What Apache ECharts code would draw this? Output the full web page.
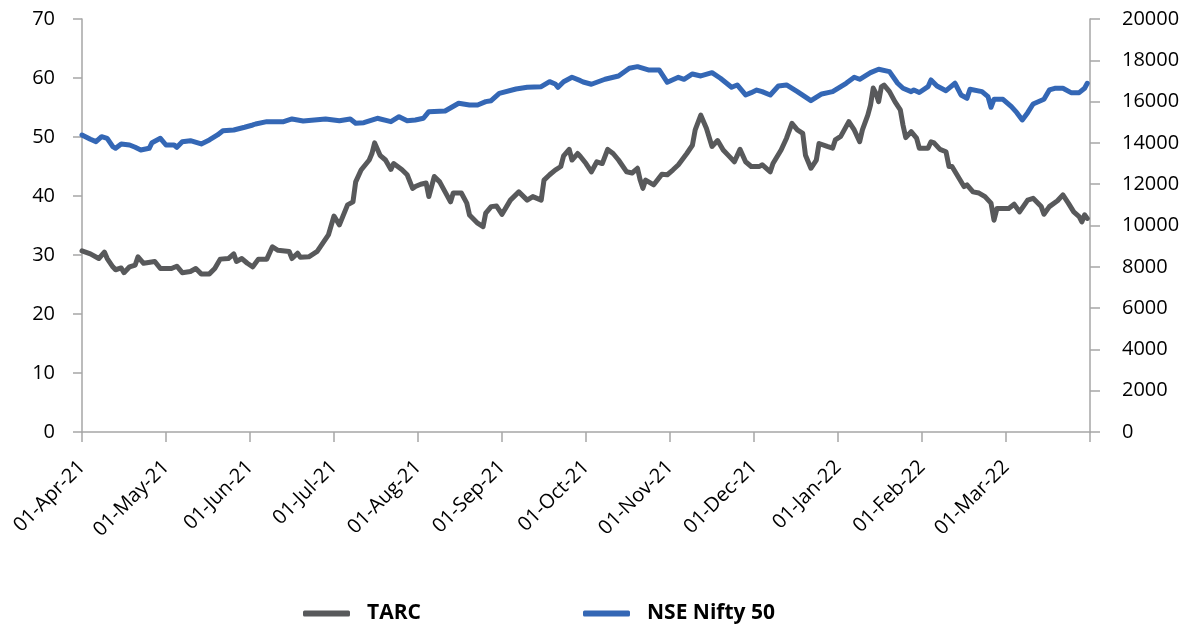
<!DOCTYPE html>
<html>
<head>
<meta charset="utf-8">
<script src="https://cdn.jsdelivr.net/npm/echarts@6/dist/echarts.min.js"></script>
<style>
  html, body { margin: 0; padding: 0; background: #ffffff; }
  #chart { width: 1198px; height: 626px; }
</style>
</head>
<body>
<div id="chart"></div>
<script>
// ---- Data ----
const monthLabels = ['01-Apr-21','01-May-21','01-Jun-21','01-Jul-21','01-Aug-21','01-Sep-21',
  '01-Oct-21','01-Nov-21','01-Dec-21','01-Jan-22','01-Feb-22','01-Mar-22'];

const tarcDates = [
  '2021-04-01','2021-04-04','2021-04-07','2021-04-09','2021-04-10','2021-04-12','2021-04-13','2021-04-15','2021-04-16','2021-04-18',
  '2021-04-20','2021-04-21','2021-04-23','2021-04-27','2021-04-29','2021-05-03','2021-05-05','2021-05-07','2021-05-10','2021-05-12',
  '2021-05-14','2021-05-17','2021-05-19','2021-05-21','2021-05-24','2021-05-26','2021-05-27','2021-05-29','2021-05-31','2021-06-02',
  '2021-06-04','2021-06-07','2021-06-09','2021-06-11','2021-06-15','2021-06-16','2021-06-18','2021-06-19','2021-06-22','2021-06-25',
  '2021-06-27','2021-06-29','2021-07-01','2021-07-03','2021-07-06','2021-07-08','2021-07-09','2021-07-11','2021-07-14','2021-07-15',
  '2021-07-16','2021-07-18','2021-07-20','2021-07-22','2021-07-23','2021-07-26','2021-07-28','2021-07-30','2021-07-31','2021-08-02',
  '2021-08-04','2021-08-05','2021-08-07','2021-08-09','2021-08-11','2021-08-13','2021-08-14','2021-08-17','2021-08-19','2021-08-20',
  '2021-08-23','2021-08-25','2021-08-26','2021-08-28','2021-08-30','2021-09-01','2021-09-04','2021-09-07','2021-09-10','2021-09-12',
  '2021-09-15','2021-09-16','2021-09-18','2021-09-20','2021-09-22','2021-09-23','2021-09-25','2021-09-26','2021-09-28','2021-09-29',
  '2021-10-01','2021-10-03','2021-10-05','2021-10-07','2021-10-09','2021-10-11','2021-10-13','2021-10-16','2021-10-18','2021-10-20',
  '2021-10-21','2021-10-22','2021-10-23','2021-10-26','2021-10-29','2021-10-31','2021-11-02','2021-11-04','2021-11-07','2021-11-09',
  '2021-11-10','2021-11-12','2021-11-14','2021-11-16','2021-11-17','2021-11-18','2021-11-20','2021-11-22','2021-11-24','2021-11-26',
  '2021-11-28','2021-11-30','2021-12-03','2021-12-04','2021-12-07','2021-12-08','2021-12-11','2021-12-13','2021-12-15','2021-12-17',
  '2021-12-19','2021-12-20','2021-12-22','2021-12-24','2021-12-25','2021-12-28','2021-12-30','2021-12-31','2022-01-02','2022-01-05',
  '2022-01-07','2022-01-09','2022-01-10','2022-01-12','2022-01-13','2022-01-14','2022-01-15','2022-01-16','2022-01-17','2022-01-18',
  '2022-01-20','2022-01-22','2022-01-24','2022-01-25','2022-01-26','2022-01-28','2022-01-30','2022-01-31','2022-02-03','2022-02-04',
  '2022-02-05','2022-02-07','2022-02-09','2022-02-10','2022-02-11','2022-02-13','2022-02-15','2022-02-16','2022-02-18','2022-02-20',
  '2022-02-22','2022-02-24','2022-02-25','2022-02-26','2022-02-28','2022-03-02','2022-03-04','2022-03-06','2022-03-09','2022-03-11',
  '2022-03-14','2022-03-15','2022-03-17','2022-03-20','2022-03-22','2022-03-24','2022-03-26','2022-03-28','2022-03-29','2022-03-30',
  '2022-03-31'
];
const tarcValues = [
  30.7,30.2,29.4,30.5,29.4,28.0,27.5,27.8,27.0,28.0,
  28.3,29.7,28.6,28.9,27.7,27.7,28.1,27.0,27.2,27.7,
  26.8,26.8,27.7,29.3,29.4,30.2,28.9,29.4,28.6,28.0,
  29.3,29.3,31.4,30.8,30.6,29.4,30.3,29.6,29.7,30.6,
  32.0,33.4,36.6,35.1,38.5,39.0,42.4,44.4,46.1,47.2,
  49.0,46.9,46.1,44.5,45.5,44.5,43.6,41.3,41.6,42.0,
  42.2,39.9,43.3,42.4,40.7,39.0,40.5,40.5,38.8,36.8,
  35.4,34.8,37.1,38.2,38.3,36.9,39.3,40.7,39.3,39.9,
  39.3,42.7,43.6,44.4,45.0,46.8,47.9,46.1,47.2,46.7,
  45.5,44.1,45.8,45.5,47.9,47.2,46.1,44.1,43.9,44.7,
  42.7,41.3,42.7,41.9,43.7,43.6,44.4,45.3,47.2,48.6,
  51.2,53.7,51.5,48.4,48.9,49.4,47.8,46.8,45.8,47.9,
  45.8,45.0,45.0,45.3,44.1,45.5,47.8,49.8,52.3,51.2,
  50.6,46.9,44.7,46.1,48.9,48.4,48.1,49.5,50.1,52.6,
  51.2,49.2,51.2,53.7,55.4,58.3,57.4,56.0,58.5,58.8,
  57.7,56.0,54.6,52.0,49.9,50.9,49.8,48.1,48.1,49.2,
  49.0,47.9,47.5,45.0,45.0,43.3,41.6,41.9,40.7,40.5,
  39.9,38.8,35.9,37.9,37.9,37.9,38.6,37.3,39.3,39.6,
  38.2,36.9,38.2,39.2,40.2,38.8,37.3,36.5,35.6,36.8,
  36.2
];

const niftyDates = [
  '2021-04-01','2021-04-04','2021-04-06','2021-04-08','2021-04-10','2021-04-12','2021-04-13','2021-04-15','2021-04-18','2021-04-20',
  '2021-04-22','2021-04-25','2021-04-26','2021-04-29','2021-05-01','2021-05-04','2021-05-05','2021-05-07','2021-05-10','2021-05-14',
  '2021-05-17','2021-05-20','2021-05-22','2021-05-26','2021-05-30','2021-06-02','2021-06-03','2021-06-07','2021-06-13','2021-06-16',
  '2021-06-20','2021-06-28','2021-07-03','2021-07-07','2021-07-09','2021-07-12','2021-07-17','2021-07-22','2021-07-25','2021-07-28',
  '2021-07-31','2021-08-03','2021-08-05','2021-08-11','2021-08-16','2021-08-20','2021-08-23','2021-08-26','2021-08-28','2021-08-31',
  '2021-09-06','2021-09-10','2021-09-15','2021-09-18','2021-09-20','2021-09-21','2021-09-23','2021-09-26','2021-09-29','2021-09-30',
  '2021-10-03','2021-10-08','2021-10-13','2021-10-17','2021-10-20','2021-10-24','2021-10-28','2021-10-31','2021-11-04','2021-11-06',
  '2021-11-09','2021-11-12','2021-11-16','2021-11-19','2021-11-23','2021-11-25','2021-11-28','2021-11-30','2021-12-02','2021-12-04',
  '2021-12-07','2021-12-10','2021-12-13','2021-12-17','2021-12-22','2021-12-26','2021-12-30','2022-01-04','2022-01-07','2022-01-09',
  '2022-01-13','2022-01-16','2022-01-20','2022-01-23','2022-01-25','2022-01-28','2022-01-29','2022-01-31','2022-02-03','2022-02-04',
  '2022-02-06','2022-02-09','2022-02-12','2022-02-14','2022-02-16','2022-02-17','2022-02-21','2022-02-23','2022-02-24','2022-02-25',
  '2022-02-28','2022-03-03','2022-03-05','2022-03-07','2022-03-09','2022-03-11','2022-03-15','2022-03-17','2022-03-19','2022-03-22',
  '2022-03-25','2022-03-28','2022-03-30','2022-03-31'
];
const niftyValues = [
  14383,14175,14060,14302,14222,13817,13740,13948,13899,13788,
  13657,13740,14011,14222,13899,13899,13788,14060,14108,13948,
  14141,14383,14592,14626,14757,14868,14916,15028,15028,15159,
  15062,15159,15076,15159,14950,14980,15192,15028,15270,15076,
  15110,15192,15512,15546,15919,15837,15837,15997,16045,16400,
  16611,16694,16723,16965,16854,16694,16965,17178,17014,16950,
  16839,17081,17241,17614,17692,17532,17532,16936,17178,17081,
  17338,17241,17401,17130,16694,16805,16321,16433,16560,16481,
  16321,16757,16805,16481,16045,16369,16481,16888,17178,17081,
  17401,17566,17449,16888,16645,16481,16563,16440,16723,17048,
  16757,16529,16888,16321,16161,16597,16481,16239,15725,16113,
  16113,15755,15464,15110,15464,15885,16113,16563,16645,16645,
  16433,16433,16645,16888
];

// ---- Helpers ----
// Position of a date on the month-uniform axis (each month = 1 unit, Apr-21 = 0)
function monthPos(d) {
  const p = d.split('-').map(Number);
  const y = p[0], m = p[1], day = p[2];
  const idx = (y - 2021) * 12 + (m - 4);
  const dim = new Date(y, m, 0).getDate();
  return idx + (day - 1) / dim;
}
function pairs(dates, vals) {
  return dates.map((d, i) => [monthPos(d), vals[i]]);
}

const FONT = '"Open Sans", "Noto Sans", sans-serif';
const AXIS_GRAY = '#a6a6a6';
const TARC_COLOR = '#58595b';
const NIFTY_COLOR = '#3467b5';

const chart = echarts.init(document.getElementById('chart'), null, { renderer: 'canvas' });

const legendBase = {
  orient: 'horizontal',
  top: 598,
  itemWidth: 47,
  itemHeight: 6,
  icon: 'roundRect',
  textStyle: { fontFamily: FONT, fontWeight: 'bold', fontSize: 21, color: '#000', padding: [0, 0, 0, 12] }
};

chart.setOption({
  animation: false,
  backgroundColor: '#ffffff',
  grid: { left: 82, right: 108, top: 19, bottom: 194, containLabel: false },
  legend: [
    Object.assign({}, legendBase, { left: 298, data: ['TARC'] }),
    Object.assign({}, legendBase, { left: 578, data: ['NSE Nifty 50'] })
  ],
  xAxis: {
    type: 'value',
    min: 0, max: 12, interval: 1,
    axisLine: { show: true, onZero: false, lineStyle: { color: AXIS_GRAY, width: 1.5 } },
    axisTick: { show: true, length: 10, lineStyle: { color: AXIS_GRAY, width: 1.5 } },
    splitLine: { show: false },
    axisLabel: {
      rotate: 45, margin: 32, fontFamily: FONT, fontSize: 20, color: '#000',
      showMinLabel: true, showMaxLabel: true,
      formatter: v => (monthLabels[Math.round(v)] !== undefined ? monthLabels[Math.round(v)] : '')
    }
  },
  yAxis: [
    {
      type: 'value', position: 'left', min: 0, max: 70, interval: 10,
      axisLine: { show: true, lineStyle: { color: AXIS_GRAY, width: 1.5 } },
      axisTick: { show: true, length: 9, lineStyle: { color: AXIS_GRAY, width: 1.5 } },
      splitLine: { show: false },
      axisLabel: { margin: 27, fontFamily: FONT, fontSize: 20, color: '#000' }
    },
    {
      type: 'value', position: 'right', min: 0, max: 20000, interval: 2000,
      axisLine: { show: true, lineStyle: { color: AXIS_GRAY, width: 1.5 } },
      axisTick: { show: true, length: 10, lineStyle: { color: AXIS_GRAY, width: 1.5 } },
      splitLine: { show: false },
      axisLabel: { margin: 32, fontFamily: FONT, fontSize: 20, color: '#000', formatter: v => String(v) }
    }
  ],
  series: [
    {
      name: 'TARC', type: 'line', yAxisIndex: 0,
      data: pairs(tarcDates, tarcValues),
      showSymbol: false, symbol: 'none',
      itemStyle: { color: TARC_COLOR },
      lineStyle: { color: TARC_COLOR, width: 5, join: 'round', cap: 'round' }
    },
    {
      name: 'NSE Nifty 50', type: 'line', yAxisIndex: 1,
      data: pairs(niftyDates, niftyValues),
      showSymbol: false, symbol: 'none',
      itemStyle: { color: NIFTY_COLOR },
      lineStyle: { color: NIFTY_COLOR, width: 5, join: 'round', cap: 'round' }
    }
  ]
});
</script>
</body>
</html>
